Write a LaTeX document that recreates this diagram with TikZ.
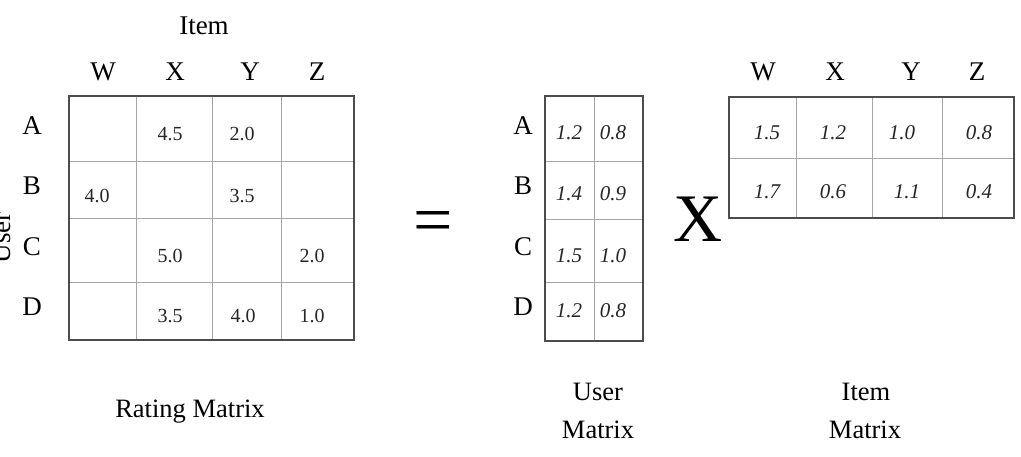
\documentclass[tikz,border=0pt]{standalone}
\usepackage{fontspec}
\setmainfont{Liberation Serif}
\begin{document}
\begin{tikzpicture}[x=1pt,y=-1pt,
  lbl/.style={font=\fontsize{27}{30}\selectfont, anchor=base, inner sep=0pt},
  captionlbl/.style={font=\fontsize{26.5}{30}\selectfont, anchor=base, inner sep=0pt},
  val/.style={font=\fontsize{20}{22}\selectfont, anchor=base, inner sep=0pt, text=black!85},
  ival/.style={font=\fontsize{21}{23}\selectfont\itshape, anchor=base, inner sep=0pt, text=black!85},
  outerline/.style={draw=black!70, line width=1.8pt},
  innerline/.style={draw=black!35, line width=0.9pt}]
\useasboundingbox (0,0) rectangle (1021,457);

% ---------- Rating matrix ----------
\foreach \x in {136,212,281} \draw[innerline] (\x,96) -- (\x,340);
\foreach \y in {161,218,282} \draw[innerline] (69,\y) -- (354,\y);
\draw[outerline] (69,96) rectangle (354,340);

\node[lbl] (item) at (204,35) {Item};
\node[lbl] (rw) at (103,81) {W};
\node[lbl] (rx) at (175,81) {X};
\node[lbl] (ry) at (250,81) {Y};
\node[lbl] (rz) at (317,81) {Z};
\node[lbl] (ra) at (32,135) {A};
\node[lbl] (rb) at (32,195) {B};
\node[lbl] (rc) at (32,255.5) {C};
\node[lbl] (rd) at (32,316) {D};
\node[lbl, rotate=90] (user) at (10,238) {User};

\node[val] (r12) at (170,141) {4.5};
\node[val] (r13) at (242,141) {2.0};
\node[val] (r21) at (97,203) {4.0};
\node[val] (r23) at (242,203) {3.5};
\node[val] (r32) at (170,263) {5.0};
\node[val] (r34) at (312,263) {2.0};
\node[val] (r42) at (170,323) {3.5};
\node[val] (r43) at (243,323) {4.0};
\node[val] (r44) at (312,323) {1.0};

\node[captionlbl] (rating) at (190,417) {Rating Matrix};

% ---------- equals ----------
\node[font=\fontsize{70}{72}\selectfont, anchor=base, inner sep=0pt] (eq) at (433.5,244) {=};

% ---------- User matrix ----------
\draw[innerline] (594,96) -- (594,341);
\foreach \y in {161,219,282} \draw[innerline] (545,\y) -- (643,\y);
\draw[outerline] (545,96) rectangle (643,341);

\node[lbl] (ua) at (523,135) {A};
\node[lbl] (ub) at (523,195) {B};
\node[lbl] (uc) at (523,255.5) {C};
\node[lbl] (ud) at (523,316) {D};

\node[ival] (u11) at (569,140) {1.2};
\node[ival] (u12) at (613,140) {0.8};
\node[ival] (u21) at (569,201) {1.4};
\node[ival] (u22) at (613,201) {0.9};
\node[ival] (u31) at (569,263) {1.5};
\node[ival] (u32) at (613,263) {1.0};
\node[ival] (u41) at (569,318) {1.2};
\node[ival] (u42) at (613,318) {0.8};

\node[captionlbl] (usr1) at (598,400) {User};
\node[captionlbl] (usr2) at (598,438) {Matrix};

% ---------- times ----------
\node[font=\fontsize{68}{70}\selectfont, anchor=base, inner sep=0pt] (times) at (698,242) {X};

% ---------- Item matrix ----------
\foreach \x in {796,872,942} \draw[innerline] (\x,97) -- (\x,218);
\draw[innerline] (729,158) -- (1014,158);
\draw[outerline] (729,97) rectangle (1014,218);

\node[lbl] (iw) at (763,81) {W};
\node[lbl] (ix) at (835,81) {X};
\node[lbl] (iy) at (911,81) {Y};
\node[lbl] (iz) at (977,81) {Z};

\node[ival] (i11) at (767,140) {1.5};
\node[ival] (i12) at (833,140) {1.2};
\node[ival] (i13) at (902,140) {1.0};
\node[ival] (i14) at (979,140) {0.8};
\node[ival] (i21) at (767,199) {1.7};
\node[ival] (i22) at (833,199) {0.6};
\node[ival] (i23) at (907,199) {1.1};
\node[ival] (i24) at (979,199) {0.4};

\node[captionlbl] (itm1) at (866,400) {Item};
\node[captionlbl] (itm2) at (865,438) {Matrix};
\end{tikzpicture}
\end{document}
